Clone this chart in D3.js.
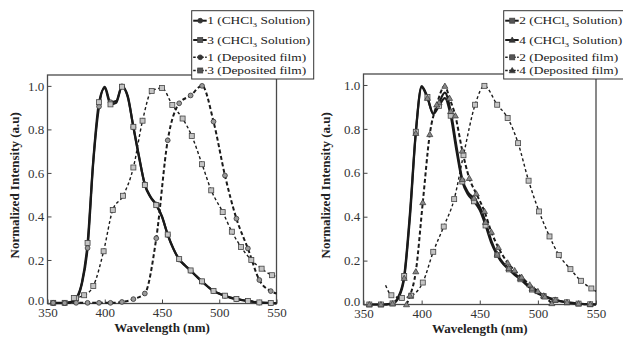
<!DOCTYPE html>
<html>
<head>
<meta charset="utf-8">
<script src="https://cdn.jsdelivr.net/npm/d3@7"></script>
<style>
    body { margin: 0; background: #fff; }
    text { font-family: "Liberation Serif", "Times New Roman", serif; }
</style>
</head>
<body>
<div id="chart"></div>
<script>
//Data (wavelength in nm, normalized intensity)
let wlSol = [355, 360, 365, 370, 375, 380, 385, 390, 395, 400, 405, 410, 415, 420, 425, 430, 435, 440, 445, 450,
             455, 460, 465, 470, 475, 480, 485, 490, 495, 500, 505, 510, 515, 520, 525, 530, 535, 540, 545, 550];

let sol1 = [0.002, 0.002, 0.002, 0.005, 0.02, 0.09, 0.255, 0.65, 0.905, 0.995, 0.925, 0.93, 0.998, 0.955, 0.81, 0.67, 0.548, 0.49, 0.455, 0.40,
            0.315, 0.25, 0.202, 0.175, 0.15, 0.125, 0.10, 0.077, 0.057, 0.045, 0.035, 0.026, 0.02, 0.015, 0.011, 0.007, 0.004, 0.003, 0.002, 0.001];
let sol3 = [0.003, 0.003, 0.003, 0.006, 0.024, 0.095, 0.278, 0.66, 0.925, 0.99, 0.915, 0.922, 0.996, 0.95, 0.812, 0.675, 0.545, 0.488, 0.452, 0.398,
            0.317, 0.252, 0.204, 0.176, 0.152, 0.126, 0.102, 0.078, 0.058, 0.046, 0.036, 0.027, 0.021, 0.016, 0.012, 0.008, 0.005, 0.003, 0.002, 0.001];
let sol2 = [0, 0, 0, 0.001, 0.005, 0.035, 0.13, 0.42, 0.787, 0.995, 0.945, 0.868, 0.905, 0.94, 0.86, 0.70, 0.56, 0.50, 0.47, 0.43,
            0.36, 0.28, 0.225, 0.185, 0.16, 0.135, 0.115, 0.09, 0.068, 0.05, 0.038, 0.028, 0.02, 0.014, 0.01, 0.006, 0.004, 0.002, 0.001, 0];
let sol4 = [0, 0, 0, 0.001, 0.004, 0.03, 0.12, 0.40, 0.78, 0.99, 0.94, 0.87, 0.92, 0.965, 0.88, 0.72, 0.57, 0.51, 0.485, 0.445,
            0.375, 0.29, 0.23, 0.19, 0.165, 0.14, 0.12, 0.095, 0.072, 0.053, 0.04, 0.03, 0.021, 0.015, 0.01, 0.007, 0.004, 0.002, 0.001, 0];

let wlFilm1 = [355, 365, 375, 385, 395, 405, 415, 425, 435, 445, 455, 465, 475, 485, 495, 505, 515, 525, 535, 545, 550];
let film1 = [0.003, 0.002, 0.003, 0.003, 0.003, 0.003, 0.007, 0.02, 0.046, 0.30, 0.75, 0.92, 0.956, 1.0, 0.836, 0.588, 0.39, 0.253, 0.108, 0.057, 0.046];

let wlFilm3 = [373, 382, 390, 399, 407, 416, 425, 433, 441, 450, 459, 468, 476, 485, 493, 503, 511, 519, 528, 537, 546, 550];
let film3 = [0.025, 0.038, 0.08, 0.24, 0.43, 0.495, 0.625, 0.84, 0.977, 0.99, 0.912, 0.85, 0.77, 0.64, 0.52, 0.42, 0.33, 0.26, 0.20, 0.16, 0.13, 0.125];

let wlFilm2 = [369, 374, 383, 391, 401, 410, 419, 428, 436, 446, 454, 465, 474, 483, 492, 501, 510, 518, 528, 537, 546, 550];
let film2 = [0.088, 0.042, 0.03, 0.04, 0.10, 0.24, 0.355, 0.48, 0.68, 0.91, 0.996, 0.91, 0.85, 0.735, 0.564, 0.424, 0.31, 0.226, 0.161, 0.108, 0.073, 0.06];

let wlFilm4 = [387, 390, 395, 401, 407, 413, 420, 424, 429, 435, 441, 447, 454, 460, 466, 474, 480, 486, 493, 500, 506, 512];
let film4 = [0, 0.04, 0.15, 0.465, 0.775, 0.91, 0.995, 0.94, 0.86, 0.70, 0.575, 0.505, 0.425, 0.33, 0.26, 0.19, 0.155, 0.125, 0.09, 0.06, 0.035, 0.005];

//Tick values
let xTicks = [350, 400, 450, 500, 550];
let yTicks = [0, 0.2, 0.4, 0.6, 0.8, 1];

//Svg size
let svgWidth = 623;
let svgHeight = 338;

let svg = d3.select("#chart")
    .append("svg")
    .attr("width", svgWidth)
    .attr("height", svgHeight);

//Panels (plot frame of each graph)
let leftPanel = {left: 47.5, right: 276.5, top: 75, bottom: 303.5, titleX: 14,
    legend: {x: 191.7, y: 10.7, w: 122, h: 68.3}};
let rightPanel = {left: 363.5, right: 596, top: 74, bottom: 304.5, titleX: 325,
    legend: {x: 503.7, y: 10.7, w: 122, h: 68.3}};

let leftSeries = [
    {label: "1", kind: "sol", wl: wlSol, val: sol1, marker: "circle", step: 2, from: 0},
    {label: "3", kind: "sol", wl: wlSol, val: sol3, marker: "square", step: 2, from: 0},
    {label: "1", kind: "film", wl: wlFilm1, val: film1, marker: "circle", step: 1, from: 0},
    {label: "3", kind: "film", wl: wlFilm3, val: film3, marker: "square", step: 1, from: 0}
];
let rightSeries = [
    {label: "2", kind: "sol", wl: wlSol, val: sol2, marker: "square", step: 2, from: 0},
    {label: "4", kind: "sol", wl: wlSol, val: sol4, marker: "triangle", step: 2, from: 0},
    {label: "2", kind: "film", wl: wlFilm2, val: film2, marker: "square", step: 1, from: 1},
    {label: "4", kind: "film", wl: wlFilm4, val: film4, marker: "triangle", step: 1, from: 0}
];

//Line style by kind and marker
function lineStyle(s) {
    if (s.kind == "sol") return {width: 2.2, dash: null};
    if (s.marker == "square") return {width: 1.4, dash: "3,2.5"};
    return {width: 2, dash: "4,2.5"};
}

//Draw one marker at (x, y)
function drawMarker(g, type, x, y, legend) {
    if (type == "circle") {
        g.append("circle").attr("cx", x).attr("cy", y).attr("r", 2.4)
            .style("fill", legend ? "#333" : "#9a9a9a")
            .style("stroke", "#333").style("stroke-width", 0.8);
    } else if (type == "square") {
        g.append("rect").attr("x", x - 2.5).attr("y", y - 2.5).attr("width", 5).attr("height", 5)
            .style("fill", legend ? "#555" : "#c4c4c4")
            .style("stroke", "#444").style("stroke-width", 0.8);
    } else {
        g.append("path").attr("d", d3.symbol().type(d3.symbolTriangle).size(16)())
            .attr("transform", "translate(" + x + "," + (y + 0.5) + ")")
            .style("fill", legend ? "#333" : "#888")
            .style("stroke", "#333").style("stroke-width", 0.7);
    }
}

function drawGraph(p, series) {
    let x = d3.scaleLinear().domain([350, 550]).range([p.left, p.right]);
    let y = d3.scaleLinear().domain([0, 1.05]).range([p.bottom, p.top]);

    //x axis, ticks pointing inside
    let xg = svg.append("g")
        .attr("transform", "translate(0," + p.bottom + ")")
        .call(d3.axisBottom(x).tickValues(xTicks).tickSizeInner(-4).tickSizeOuter(0).tickPadding(4));
    xg.select(".domain").remove();
    xg.selectAll(".tick line").style("stroke", "#444");
    xg.selectAll("text").style("font-size", "13px").style("fill", "#333")
        .style("font-family", "Liberation Serif");

    //y axis
    let yg = svg.append("g")
        .attr("transform", "translate(" + p.left + ",0)")
        .call(d3.axisLeft(y).tickValues(yTicks).tickSizeInner(-4).tickSizeOuter(0));
    yg.select(".domain").remove();
    yg.selectAll(".tick line").style("stroke", "#444");
    yg.selectAll("text").style("font-size", "13px").style("fill", "#333")
        .style("font-family", "Liberation Serif")
        .attr("text-anchor", "middle").attr("x", -11.5)
        .attr("dy", function(d) { return d == 0 ? "0.1em" : "0.32em"; });

    //frame
    svg.append("rect")
        .attr("x", p.left).attr("y", p.top)
        .attr("width", p.right - p.left).attr("height", p.bottom - p.top)
        .style("fill", "none").style("stroke", "#4a4a4a").style("stroke-width", 1.3);

    //lines
    series.forEach(function(s) {
        let pts = s.wl.map(function(w, i) { return {wl: w, v: s.val[i]}; });
        let line = d3.line().curve(d3.curveMonotoneX)
            .x(function(d) { return x(d.wl); })
            .y(function(d) { return y(d.v); });
        let st = lineStyle(s);
        svg.append("path")
            .attr("d", line(pts))
            .style("fill", "none")
            .style("stroke", "#1a1a1a")
            .style("stroke-width", st.width)
            .style("stroke-dasharray", st.dash);
    });

    //markers
    series.forEach(function(s) {
        let g = svg.append("g");
        s.wl.forEach(function(w, i) {
            if (i < s.from || i % s.step != 0 || w >= 549) return;
            drawMarker(g, s.marker, x(w), y(s.val[i]), false);
        });
    });

    //axis titles
    svg.append("text")
        .attr("x", (p.left + p.right) / 2)
        .attr("y", p.bottom + 28)
        .style("text-anchor", "middle")
        .style("font-size", "13px")
        .style("font-weight", "bold")
        .style("fill", "#222")
        .text("Wavelength (nm)");

    svg.append("text")
        .attr("transform", "translate(" + p.titleX + "," + ((p.top + p.bottom) / 2 - 4) + ") rotate(-90)")
        .attr("dy", "0.35em")
        .style("text-anchor", "middle")
        .style("font-size", "13px")
        .style("font-weight", "bold")
        .style("fill", "#222")
        .text("Normalized Intensity (a.u)");

    //legend box
    let L = p.legend;
    svg.append("rect")
        .attr("x", L.x).attr("y", L.y).attr("width", L.w).attr("height", L.h)
        .style("fill", "#fff").style("stroke", "#333").style("stroke-width", 1);

    let rowY = [20.7, 40, 57.3, 70.5];
    series.forEach(function(s, i) {
        let g = svg.append("g");
        g.append("line")
            .attr("x1", L.x + 1.5).attr("x2", L.x + 15)
            .attr("y1", rowY[i]).attr("y2", rowY[i])
            .style("stroke", "#1a1a1a")
            .style("stroke-width", s.kind == "sol" ? 2 : 1.6)
            .style("stroke-dasharray", s.kind == "sol" ? null : "2.5,1.5");
        drawMarker(g, s.marker, L.x + 8.5, rowY[i], true);

        let t = g.append("text")
            .attr("x", L.x + 15.5)
            .attr("y", rowY[i] + 3.6)
            .style("font-size", "11px")
            .style("fill", "#222");
        if (s.kind == "sol") {
            t.attr("textLength", 103).attr("lengthAdjust", "spacingAndGlyphs");
            t.append("tspan").text(s.label + " (CHCl");
            t.append("tspan").attr("dy", 3).style("font-size", "7px").text("3");
            t.append("tspan").attr("dy", -3).text(" Solution)");
        } else {
            t.attr("textLength", 99).attr("lengthAdjust", "spacingAndGlyphs");
            t.text(s.label + " (Deposited film)");
        }
    });
}

drawGraph(leftPanel, leftSeries);
drawGraph(rightPanel, rightSeries);
</script>
</body>
</html>
